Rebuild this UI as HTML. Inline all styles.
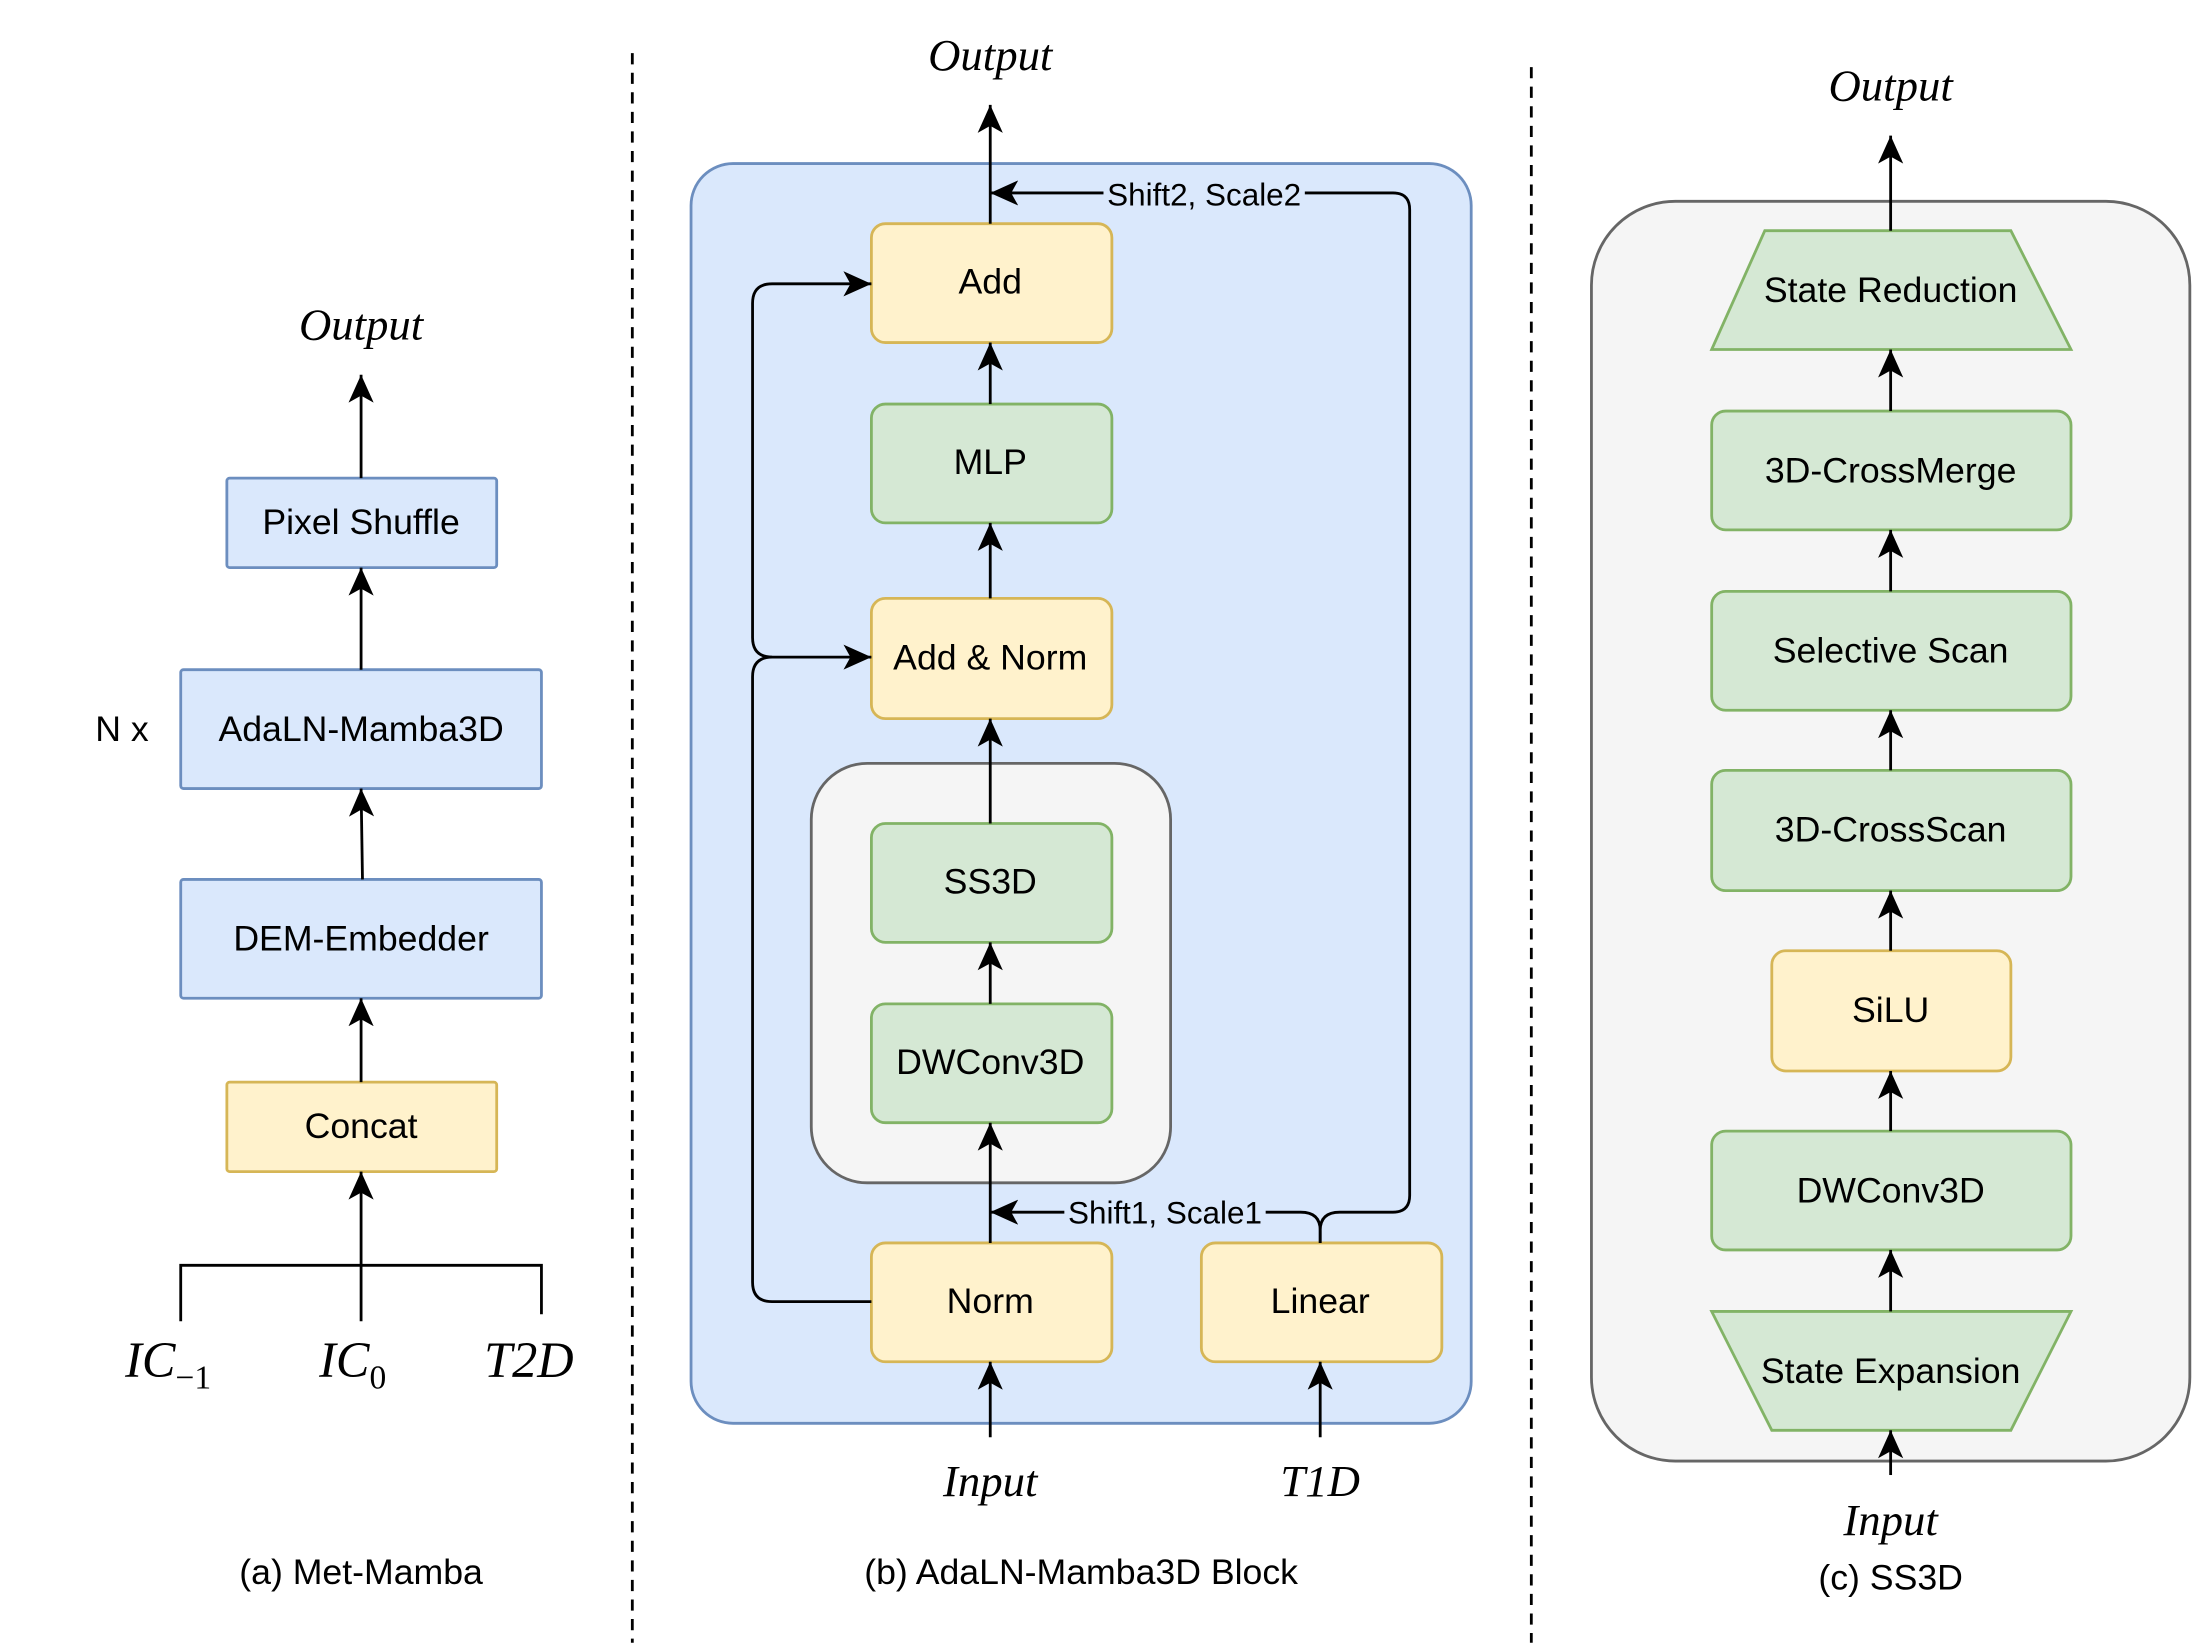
<!DOCTYPE html>
<html><head><meta charset="utf-8"><style>html,body{margin:0;padding:0;background:#fff}svg{display:block}</style></head>
<body>
<svg width="2193" height="1647" viewBox="0 0 1568 1178" xmlns="http://www.w3.org/2000/svg" font-family="Liberation Sans, sans-serif">
<defs>
<marker id="a" markerUnits="userSpaceOnUse" markerWidth="22" markerHeight="22" viewBox="0 0 22 22" refX="20" refY="11" orient="auto">
<path d="M0,2 L20,11 L0,20 L5,11 z" fill="#000"/>
</marker>
</defs>
<g fill="none" stroke="#000" stroke-width="2">
<line x1="452" y1="38" x2="452" y2="1175" stroke-dasharray="8,6"/>
<line x1="1095" y1="48" x2="1095" y2="1175" stroke-dasharray="8,6"/>
</g>

<!-- Panel a -->
<g stroke-width="2">
<rect x="162" y="342" width="193" height="64" fill="#dae8fc" stroke="#6c8ebf" rx="2"/>
<rect x="129" y="479" width="258" height="85" fill="#dae8fc" stroke="#6c8ebf" rx="2"/>
<rect x="129" y="629" width="258" height="85" fill="#dae8fc" stroke="#6c8ebf" rx="2"/>
<rect x="162" y="774" width="193" height="64" fill="#fff2cc" stroke="#d6b656" rx="2"/>
</g>
<g fill="none" stroke="#000" stroke-width="2" marker-end="url(#a)">
<line x1="258" y1="342" x2="258" y2="268"/>
<line x1="258" y1="479" x2="258" y2="406"/>
<line x1="259" y1="629" x2="258" y2="564"/>
<line x1="258" y1="774" x2="258" y2="714"/>
<line x1="258" y1="945" x2="258" y2="838"/>
</g>
<path d="M129,945 V905 H387 V940" fill="none" stroke="#000" stroke-width="2"/>
<g font-size="25.5" text-anchor="middle" fill="#000">
<text x="258" y="382">Pixel Shuffle</text>
<text x="258" y="530">AdaLN-Mamba3D</text>
<text x="258" y="680">DEM-Embedder</text>
<text x="258" y="814">Concat</text>
<text x="87" y="530">N x</text>
<text x="258" y="1133">(a) Met-Mamba</text>
<text x="773" y="1133">(b) AdaLN-Mamba3D Block</text>
<text x="1352" y="1137">(c) SS3D</text>
</g>
<g font-family="Liberation Serif, serif" font-style="italic" font-size="32" text-anchor="middle" fill="#000">
<text x="258" y="243">Output</text>
<text x="708" y="50">Output</text>
<text x="1352" y="72">Output</text>
<text x="708" y="1070">Input</text>
<text x="944" y="1070">T1D</text>
<text x="1352" y="1098">Input</text>
<text x="378" y="985" font-size="36">T2D</text>
<text x="120" y="985" font-size="36">IC<tspan font-size="24" dy="8" font-style="normal">−1</tspan></text>
<text x="252" y="985" font-size="36">IC<tspan font-size="24" dy="8" font-style="normal">0</tspan></text>
</g>

<!-- Panel b -->
<rect x="494" y="117" width="558" height="901" rx="30" fill="#dae8fc" stroke="#6c8ebf" stroke-width="2"/>
<rect x="580" y="546" width="257" height="300" rx="40" fill="#f5f5f5" stroke="#666" stroke-width="2"/>
<g stroke-width="2">
<rect x="623" y="160" width="172" height="85" rx="10" fill="#fff2cc" stroke="#d6b656"/>
<rect x="623" y="289" width="172" height="85" rx="10" fill="#d5e8d4" stroke="#82b366"/>
<rect x="623" y="428" width="172" height="86" rx="10" fill="#fff2cc" stroke="#d6b656"/>
<rect x="623" y="589" width="172" height="85" rx="10" fill="#d5e8d4" stroke="#82b366"/>
<rect x="623" y="718" width="172" height="85" rx="10" fill="#d5e8d4" stroke="#82b366"/>
<rect x="623" y="889" width="172" height="85" rx="10" fill="#fff2cc" stroke="#d6b656"/>
<rect x="859" y="889" width="172" height="85" rx="10" fill="#fff2cc" stroke="#d6b656"/>
</g>
<g fill="none" stroke="#000" stroke-width="2" marker-end="url(#a)">
<line x1="708" y1="160" x2="708" y2="75"/>
<line x1="708" y1="289" x2="708" y2="245"/>
<line x1="708" y1="428" x2="708" y2="374"/>
<line x1="708" y1="589" x2="708" y2="514"/>
<line x1="708" y1="718" x2="708" y2="674"/>
<line x1="708" y1="889" x2="708" y2="803"/>
<line x1="708" y1="1028" x2="708" y2="974"/>
<line x1="944" y1="1028" x2="944" y2="974"/>
<path d="M944,889 V880 Q944,867 930,867 H708"/>
<path d="M944,889 V880 Q944,867 958,867 H996 Q1008,867 1008,855 V150 Q1008,138 996,138 H708"/>
<path d="M623,931 H552 Q538,931 538,917 V484 Q538,470 552,470 H623"/>
<path d="M552,470 Q538,470 538,456 V217 Q538,203 552,203 H623"/>
</g>
<rect x="789" y="127" width="144" height="24" fill="#dae8fc"/>
<rect x="761" y="855" width="144" height="24" fill="#dae8fc"/>
<g font-size="25.5" text-anchor="middle" fill="#000">
<text x="708" y="210">Add</text>
<text x="708" y="339">MLP</text>
<text x="708" y="479">Add &amp; Norm</text>
<text x="708" y="639">SS3D</text>
<text x="708" y="768">DWConv3D</text>
<text x="708" y="939">Norm</text>
<text x="944" y="939">Linear</text>
<text x="861" y="147" font-size="22.5">Shift2, Scale2</text>
<text x="833" y="875" font-size="22.5">Shift1, Scale1</text>
</g>

<!-- Panel c -->
<rect x="1138" y="144" width="428" height="901" rx="60" fill="#f5f5f5" stroke="#666" stroke-width="2"/>
<g stroke-width="2">
<polygon points="1262,165 1438,165 1481,250 1224,250" fill="#d5e8d4" stroke="#82b366"/>
<rect x="1224" y="294" width="257" height="85" rx="10" fill="#d5e8d4" stroke="#82b366"/>
<rect x="1224" y="423" width="257" height="85" rx="10" fill="#d5e8d4" stroke="#82b366"/>
<rect x="1224" y="551" width="257" height="86" rx="10" fill="#d5e8d4" stroke="#82b366"/>
<rect x="1267" y="680" width="171" height="86" rx="10" fill="#fff2cc" stroke="#d6b656"/>
<rect x="1224" y="809" width="257" height="85" rx="10" fill="#d5e8d4" stroke="#82b366"/>
<polygon points="1224,938 1481,938 1438,1023 1267,1023" fill="#d5e8d4" stroke="#82b366"/>
</g>
<g fill="none" stroke="#000" stroke-width="2" marker-end="url(#a)">
<line x1="1352" y1="165" x2="1352" y2="97"/>
<line x1="1352" y1="294" x2="1352" y2="250"/>
<line x1="1352" y1="423" x2="1352" y2="379"/>
<line x1="1352" y1="551" x2="1352" y2="508"/>
<line x1="1352" y1="680" x2="1352" y2="637"/>
<line x1="1352" y1="809" x2="1352" y2="766"/>
<line x1="1352" y1="938" x2="1352" y2="894"/>
<line x1="1352" y1="1055" x2="1352" y2="1023"/>
</g>
<g font-size="25.5" text-anchor="middle" fill="#000">
<text x="1352" y="216">State Reduction</text>
<text x="1352" y="345">3D-CrossMerge</text>
<text x="1352" y="474">Selective Scan</text>
<text x="1352" y="602">3D-CrossScan</text>
<text x="1352" y="731">SiLU</text>
<text x="1352" y="860">DWConv3D</text>
<text x="1352" y="989">State Expansion</text>
</g>
</svg>
</body></html>
